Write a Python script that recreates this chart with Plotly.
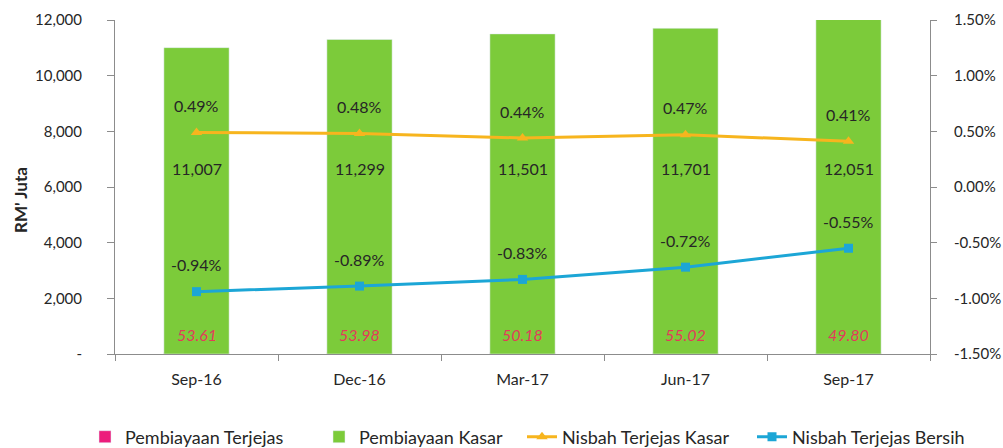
import plotly.graph_objects as go

categories = ["Sep-16", "Dec-16", "Mar-17", "Jun-17", "Sep-17"]
pembiayaan_terjejas = [53.61, 53.98, 50.18, 55.02, 49.80]
pembiayaan_kasar = [11007, 11299, 11501, 11701, 12051]
nisbah_kasar = [0.49, 0.48, 0.44, 0.47, 0.41]
nisbah_bersih = [-0.94, -0.89, -0.83, -0.72, -0.55]
left_ticks = [0, 2000, 4000, 6000, 8000, 10000, 12000]
left_ticktext = ["-", "2,000", "4,000", "6,000", "8,000", "10,000", "12,000"]
right_ticks = [-1.5, -1.0, -0.5, 0.0, 0.5, 1.0, 1.5]
right_ticktext = ["-1.50%", "-1.00%", "-0.50%", "0.00%", "0.50%", "1.00%", "1.50%"]

FONT = "Lato, Open Sans, sans-serif"
PINK = "#EC1C7C"
GREEN = "#7CCB3A"
GOLD = "#F7B51E"
BLUE = "#1CA6D6"
TXT = "#262626"
AX = "#8c8c8c"

fig = go.Figure()
fig.add_trace(go.Bar(x=categories, y=pembiayaan_terjejas, name="Pembiayaan Terjejas",
                     marker_color=PINK, width=0.4, legend="legend"))
fig.add_trace(go.Bar(x=categories, y=pembiayaan_kasar, name="Pembiayaan Kasar",
                     marker_color=GREEN, width=0.4, legend="legend2"))
fig.add_trace(go.Scatter(x=categories, y=nisbah_kasar, name="Nisbah Terjejas Kasar",
                         yaxis="y2", mode="lines+markers", legend="legend3",
                         line=dict(color=GOLD, width=3),
                         marker=dict(symbol="triangle-up", size=10, color=GOLD)))
fig.add_trace(go.Scatter(x=categories, y=nisbah_bersih, name="Nisbah Terjejas Bersih",
                         yaxis="y2", mode="lines+markers", legend="legend4",
                         line=dict(color=BLUE, width=3),
                         marker=dict(symbol="square", size=9, color=BLUE)))

annotations = []
for c, v in zip(categories, pembiayaan_kasar):
    annotations.append(dict(x=c, y=6650, xref="x", yref="y", text=f"{v:,}",
                            showarrow=False, font=dict(size=16, color=TXT, family=FONT)))
for c, v in zip(categories, pembiayaan_terjejas):
    annotations.append(dict(x=c, y=690, xref="x", yref="y", text=f"<i>{v:.2f}</i>",
                            showarrow=False, font=dict(size=16, color="#E23B5A", family=FONT)))
for series in (nisbah_kasar, nisbah_bersih):
    for c, v in zip(categories, series):
        annotations.append(dict(x=c, y=v, xref="x", yref="y2", text=f"{v:.2f}%",
                                showarrow=False, yshift=27,
                                font=dict(size=16, color=TXT, family=FONT)))
annotations.append(dict(x=(20 - 115) / 815, y=(354 - 200) / 334, xref="paper", yref="paper",
                        text="<b>RM' Juta</b>", textangle=-90, showarrow=False,
                        xanchor="center", yanchor="middle",
                        font=dict(size=17, color=TXT, family=FONT)))


def leg(xpx):
    return dict(orientation="h", x=xpx / 1003, xref="container", xanchor="left",
                y=1 - 437 / 448, yref="container", yanchor="middle",
                font=dict(size=18, color=TXT, family=FONT), bgcolor="rgba(0,0,0,0)")


fig.update_layout(
    width=1003, height=448,
    margin=dict(l=115, r=73, t=20, b=94, autoexpand=False),
    paper_bgcolor="white", plot_bgcolor="white",
    barmode="overlay",
    font=dict(family=FONT, size=15, color=TXT),
    showlegend=True,
    legend=leg(85), legend2=leg(319), legend3=leg(522), legend4=leg(752),
    annotations=annotations,
    xaxis=dict(showline=True, linecolor=AX, linewidth=1, ticks="outside",
               tickson="boundaries", ticklen=6, tickcolor=AX,
               tickfont=dict(size=16, color=TXT), showgrid=False, ticklabelstandoff=11),
    yaxis=dict(range=[0, 12000], tickvals=left_ticks, ticktext=left_ticktext,
               showline=True, linecolor=AX, ticks="outside", ticklen=7,
               tickcolor=AX, showgrid=False, zeroline=False, ticklabelstandoff=22,
               tickfont=dict(size=15, color=TXT)),
    yaxis2=dict(range=[-1.5, 1.5], tickvals=right_ticks, ticktext=right_ticktext,
                overlaying="y", side="right", showline=True, linecolor=AX,
                ticks="outside", ticklen=6, tickcolor=AX, showgrid=False,
                ticklabelstandoff=14,
                zeroline=False, tickfont=dict(size=15, color=TXT)),
)

fig.write_html("out.html")
